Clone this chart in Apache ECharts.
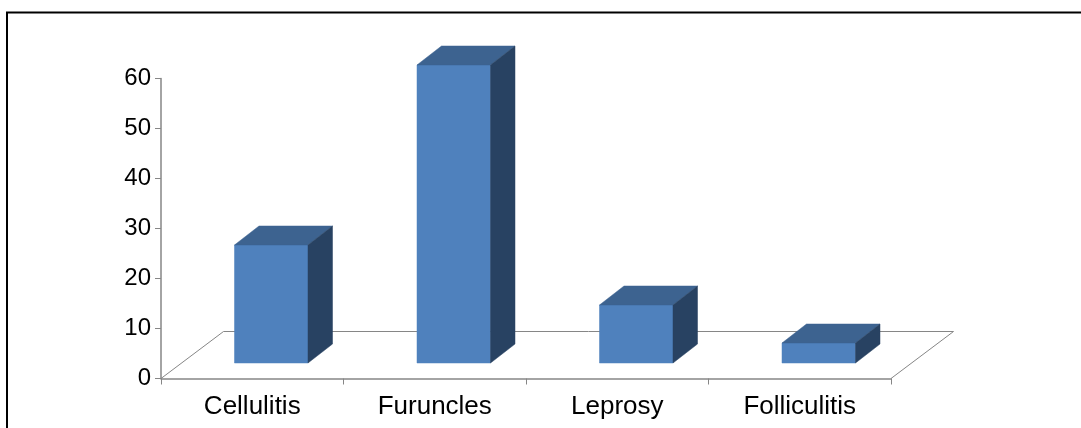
<!DOCTYPE html>
<html>
<head>
<meta charset="utf-8">
<style>
  html, body { margin: 0; padding: 0; background: #fff; }
  #chart { width: 1081px; height: 428px; }
</style>
<script src="https://cdn.jsdelivr.net/npm/echarts@6/dist/echarts.min.js"></script>
</head>
<body>
<div id="chart"></div>
<script>
// Cases per skin condition
const categories = ['Cellulitis', 'Furuncles', 'Leprosy', 'Folliculitis'];
const cases = [23.6, 59.6, 11.6, 4];
const yTicks = { min: 0, max: 60, interval: 10 };

// Oblique projection settings for the pseudo-3D look (pixels)
const floorDepth = { dx: 62.5, dy: -47 };
const barOffset = { dx: 19, dy: -15.5 };
const barDepth = { dx: 24.5, dy: -19 };
const barWidth = 73.5;

const axisColor = '#868686';
const faceColors = { front: '#4f81bd', top: '#3d6390', side: '#284262' };
const fontFamily = '"Liberation Sans", Arial, sans-serif';

const chart = echarts.init(document.getElementById('chart'), null, { renderer: 'canvas' });

function poly(points, fill) {
  return {
    type: 'polygon',
    shape: { points },
    style: { fill, stroke: fill, lineWidth: 0.5 }
  };
}

function renderBar(params, api) {
  const base = api.coord([api.value(0), 0]);
  const top = api.coord([api.value(0), api.value(1)]);
  const xl = base[0] + barOffset.dx - barWidth / 2;
  const xr = xl + barWidth;
  const yb = base[1] + barOffset.dy;
  const yt = top[1] + barOffset.dy;
  const dx = barDepth.dx;
  const dy = barDepth.dy;
  return {
    type: 'group',
    children: [
      poly([[xl, yb], [xr, yb], [xr, yt], [xl, yt]], faceColors.front),
      poly([[xl, yt], [xr, yt], [xr + dx, yt + dy], [xl + dx, yt + dy]], faceColors.top),
      poly([[xr, yb], [xr + dx, yb + dy], [xr + dx, yt + dy], [xr, yt]], faceColors.side)
    ]
  };
}

function renderFloor(params, api) {
  const c = params.coordSys;
  const y0 = c.y + c.height;
  const x0 = c.x;
  const x1 = c.x + c.width;
  const { dx, dy } = floorDepth;
  return {
    type: 'polyline',
    shape: { points: [[x0, y0], [x0 + dx, y0 + dy], [x1 + dx, y0 + dy], [x1, y0]] },
    style: { fill: 'none', stroke: axisColor, lineWidth: 1 }
  };
}

chart.setOption({
  animation: false,
  backgroundColor: '#ffffff',
  grid: { left: 161, right: 190, top: 78.5, bottom: 49.5 },
  xAxis: {
    type: 'category',
    data: categories,
    boundaryGap: true,
    axisLine: { show: true, lineStyle: { color: axisColor, width: 1.5 } },
    axisTick: { show: true, alignWithLabel: false, length: 6, lineStyle: { color: axisColor } },
    axisLabel: { color: '#000', fontSize: 26, fontFamily, margin: 15, interval: 0 },
    splitLine: { show: false }
  },
  yAxis: {
    type: 'value',
    min: yTicks.min,
    max: yTicks.max,
    interval: yTicks.interval,
    axisLine: { show: true, lineStyle: { color: axisColor, width: 1.5 } },
    axisTick: { show: true, length: 6, lineStyle: { color: axisColor } },
    axisLabel: { color: '#000', fontSize: 24, fontFamily, margin: 10 },
    splitLine: { show: false }
  },
  graphic: [
    // Heavy frame around the figure, running off the right and bottom edges
    {
      type: 'polyline',
      shape: { points: [[7, 428], [7, 12.5], [1081, 12.5]] },
      style: { fill: 'none', stroke: '#000', lineWidth: 2 },
      silent: true
    }
  ],
  series: [
    {
      type: 'custom',
      name: 'Floor',
      coordinateSystem: 'cartesian2d',
      renderItem: renderFloor,
      data: [[0, 0]],
      clip: false,
      silent: true,
      z: 1
    },
    {
      type: 'custom',
      name: 'Cases',
      coordinateSystem: 'cartesian2d',
      renderItem: renderBar,
      encode: { x: 0, y: 1 },
      data: cases.map((v, i) => [i, v]),
      clip: false,
      z: 3
    }
  ]
});
</script>
</body>
</html>
